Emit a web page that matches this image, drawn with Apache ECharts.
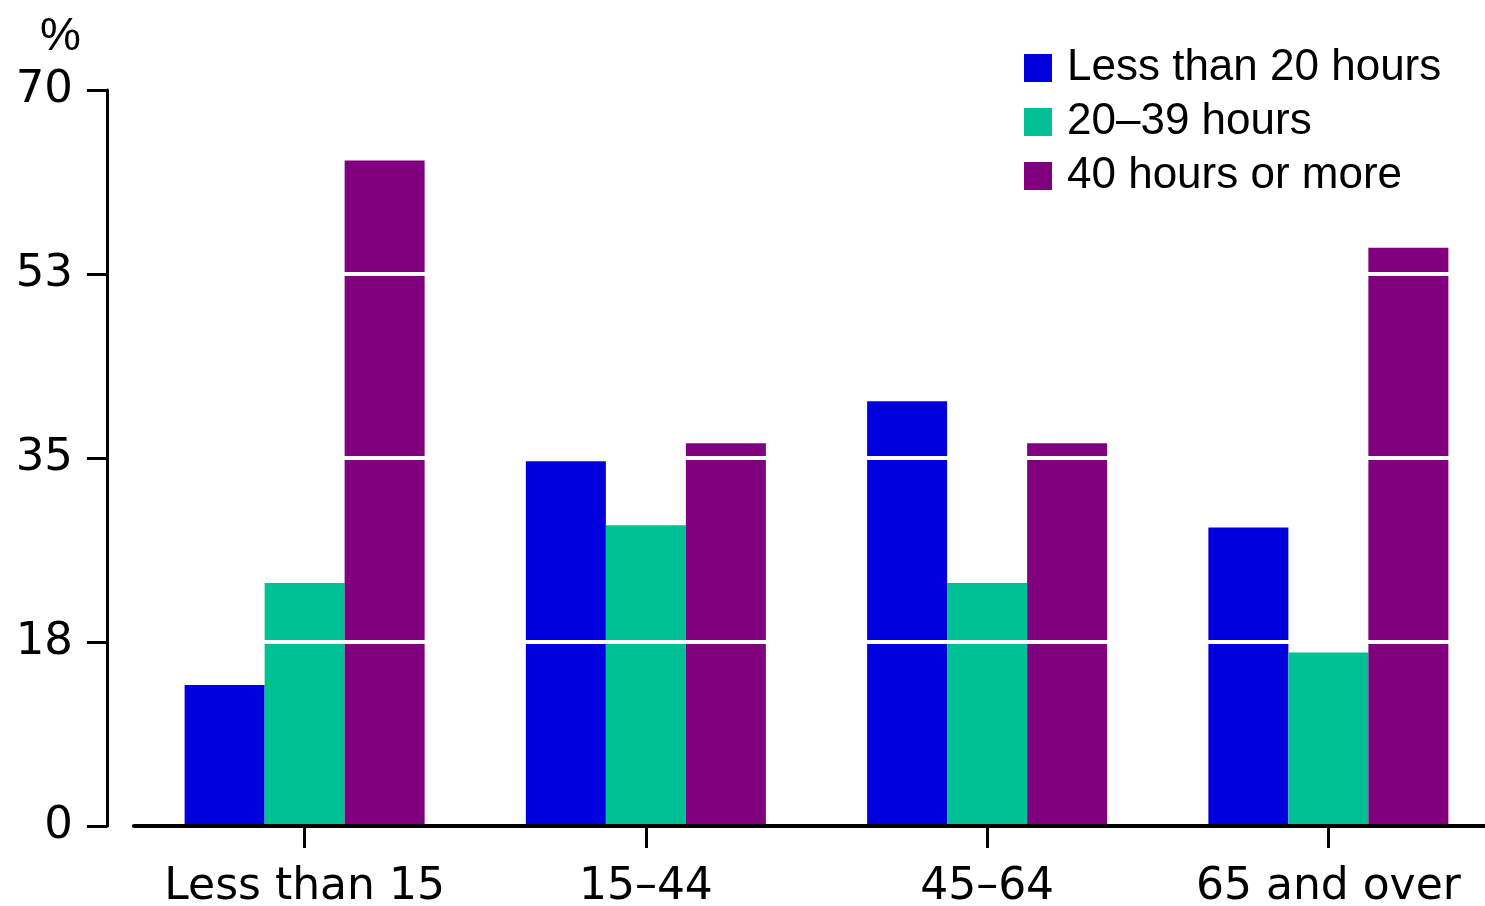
<!DOCTYPE html>
<html>
<head>
<meta charset="utf-8">
<script src="https://cdn.jsdelivr.net/npm/echarts@6/dist/echarts.min.js"></script>
<style>
html,body{margin:0;padding:0;background:#fff;}
#chart{width:1485px;height:906px;}
</style>
</head>
<body>
<div id="chart"></div>
<script>
const categories = ['Less than 15', '15–44', '45–64', '65 and over'];
const seriesNames = ['Less than 20 hours', '20–39 hours', '40 hours or more'];
const lessThan20 = [13.4, 34.7, 40.4, 28.4];
const from20to39 = [23.1, 28.6, 23.1, 16.5];
const over40 = [63.3, 36.4, 36.4, 55.0];
const colors = ['#0000DD', '#00C096', '#800080'];
const font = '"Liberation Sans", Arial, sans-serif';
const axisFont = '"DejaVu Sans", sans-serif';

const chart = echarts.init(document.getElementById('chart'), null, {renderer: 'canvas'});
const values = [lessThan20, from20to39, over40];
chart.setOption({
  animation: false,
  backgroundColor: '#fff',
  title: {text: '%', left: 35, top: 9, textStyle: {fontFamily: font, fontSize: 46, fontWeight: 'normal', color: '#000'}},
  legend: {
    orient: 'vertical', left: 1019, top: 41,
    itemWidth: 28, itemHeight: 28, itemGap: 10,
    icon: 'rect',
    textStyle: {fontFamily: font, fontSize: 44, color: '#000', lineHeight: 30, padding: [0, 0, 0, 10]},
    data: seriesNames
  },
  grid: {left: 134, right: -14, top: 90, bottom: 80, containLabel: false, outerBoundsMode: 'none'},
  xAxis: {
    type: 'category', data: categories, z: 10,
    axisLine: {lineStyle: {color: '#000', width: 4}},
    axisTick: {show: true, alignWithLabel: true, interval: 0, length: 22, lineStyle: {color: '#000', width: 3}},
    axisLabel: {fontFamily: axisFont, fontSize: 44, color: '#000', margin: 40, interval: 0}
  },
  yAxis: {
    type: 'value', min: 0, max: 70, interval: 17.5, offset: 27, z: 10,
    axisLine: {show: true, lineStyle: {color: '#000', width: 3}},
    axisTick: {show: true, length: 20, lineStyle: {color: '#000', width: 3}},
    axisLabel: {fontFamily: axisFont, fontSize: 45, color: '#000', margin: 34, formatter: v => String(Math.round(v))},
    splitLine: {show: true, lineStyle: {color: '#fff', width: 4}}
  },
  series: seriesNames.map((n, i) => ({
    name: n, type: 'bar', data: values[i], barWidth: 80, barGap: '0%',
    itemStyle: {color: colors[i]}
  }))
});
</script>
</body>
</html>
